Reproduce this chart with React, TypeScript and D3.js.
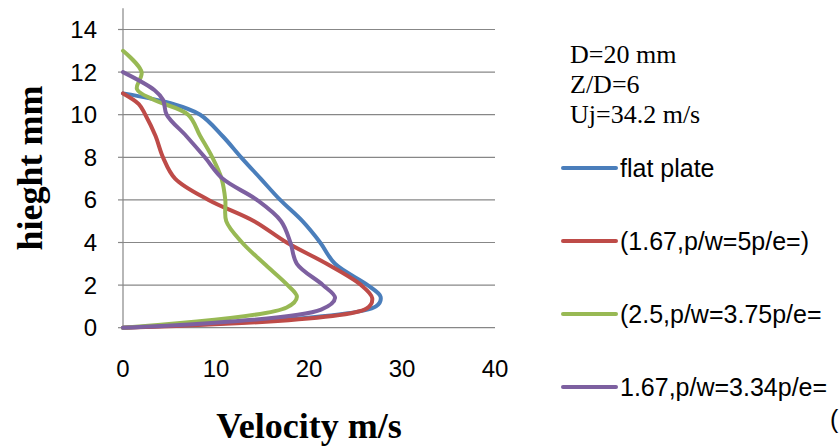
import React, { useEffect } from 'react';
import * as d3 from 'd3';

// values (velocity m/s vs height mm)
const flatHeight = [0, 1.0, 1.45, 2, 3, 4, 5, 6, 7, 8, 9, 10, 10.55, 11];
const flatVel = [0, 27.2, 27.7, 26.3, 22.8, 21.2, 19.3, 16.9, 14.8, 12.7, 10.7, 8.3, 5.0, 0];

const red167Height = [0, 0.9, 1.38, 2, 3, 4, 5, 6, 7, 8, 9, 10, 10.5, 11];
const red167Vel = [0, 26.2, 26.8, 25.6, 21.9, 17.6, 14.1, 9.2, 5.6, 4.3, 3.5, 2.4, 1.7, 0];

const green25Height = [0, 0.95, 1.45, 2, 3, 4, 5, 6, 7, 8, 9, 10, 10.7, 11.2, 12, 13];
const green25Vel = [0, 17.6, 18.7, 17.7, 15.2, 12.8, 11.1, 11.0, 10.6, 9.6, 8.3, 7.0, 3.3, 1.5, 2.0, 0];

const purple167Height = [0, 0.85, 1.4, 2, 3, 4, 5, 6, 7, 8, 9, 10, 10.7, 11.15, 12];
const purple167Vel = [0, 21.3, 22.8, 21.5, 18.7, 18.0, 17.0, 14.4, 10.7, 8.8, 6.8, 4.7, 4.3, 3.4, 0];

const seriesNames = ['flat plate', '(1.67,p/w=5p/e=)', '(2.5,p/w=3.75p/e=', '1.67,p/w=3.34p/e='];
const seriesColors = ['#4a7ebb', '#be4b48', '#98b954', '#7d60a0'];

const xTicks = [0, 10, 20, 30, 40];
const yTicks = [0, 2, 4, 6, 8, 10, 12, 14];
const infoLines = ['D=20 mm', 'Z/D=6', 'Uj=34.2 m/s'];

const zip = (hs: number[], vs: number[]) => hs.map((h, i) => [vs[i], h] as [number, number]);

const series = [
    zip(flatHeight, flatVel),
    zip(red167Height, red167Vel),
    zip(green25Height, green25Vel),
    zip(purple167Height, purple167Vel),
];

const App = () => {
    useEffect(() => {
        document.body.style.margin = '0';
    }, []);

    const width = 840;
    const height = 446;

    const x = d3.scaleLinear().domain([0, 40]).range([123, 495]);
    const y = d3.scaleLinear().domain([0, 15]).range([327.7, 8.2]);

    const line = d3.line<[number, number]>()
        .x(d => x(d[0]))
        .y(d => y(d[1]))
        .curve(d3.curveCatmullRom.alpha(0.5));

    const sans = 'Liberation Sans, Arial, sans-serif';
    const serif = 'Liberation Serif, Times New Roman, serif';

    return (
        <svg width={width} height={height} style={{ display: 'block', background: '#fff' }}>
            {/* gridlines */}
            {yTicks.filter(t => t > 0).map(t => (
                <line key={t} x1={x(0)} x2={x(40)} y1={y(t)} y2={y(t)} stroke="#878787" strokeWidth={1.2} />
            ))}
            {/* axes */}
            <line x1={x(0)} x2={x(0)} y1={y(15)} y2={y(0)} stroke="#878787" strokeWidth={1.2} />
            <line x1={x(0)} x2={x(40)} y1={y(0)} y2={y(0)} stroke="#878787" strokeWidth={1.2} />
            {yTicks.map(t => (
                <line key={t} x1={x(0) - 5} x2={x(0)} y1={y(t)} y2={y(t)} stroke="#878787" strokeWidth={1.2} />
            ))}
            {/* tick labels */}
            {yTicks.map(t => (
                <text key={t} x={97} y={y(t)} dy="0.35em" textAnchor="end" fontFamily={sans} fontSize={24} fill="#000">{t}</text>
            ))}
            {xTicks.map(t => (
                <text key={t} x={x(t)} y={377} textAnchor="middle" fontFamily={sans} fontSize={24} fill="#000">{t}</text>
            ))}
            {/* series */}
            {series.map((s, i) => (
                <path key={i} d={line(s) ?? ''} fill="none" stroke={seriesColors[i]} strokeWidth={4} strokeLinejoin="round" strokeLinecap="round" />
            ))}
            {/* axis titles */}
            <text x={309} y={438} textAnchor="middle" fontFamily={serif} fontWeight="bold" fontSize={36} fill="#000">Velocity m/s</text>
            <text transform="translate(42,168) rotate(-90)" textAnchor="middle" fontFamily={serif} fontWeight="bold" fontSize={36} fill="#000">hieght mm</text>
            {/* info text */}
            {infoLines.map((t, i) => (
                <text key={t} x={570} y={63 + i * 30} fontFamily={serif} fontSize={26} fill="#000">{t}</text>
            ))}
            {/* legend */}
            {seriesNames.map((n, i) => {
                const ly = 168 + i * 73;
                return (
                    <g key={n}>
                        <line x1={563} x2={616} y1={ly} y2={ly} stroke={seriesColors[i]} strokeWidth={4} strokeLinecap="round" />
                        <text x={620} y={ly} dy="0.35em" fontFamily={sans} fontSize={25} fill="#000">{n}</text>
                    </g>
                );
            })}
            <text x={830} y={428} fontFamily={sans} fontSize={25} fill="#000">(</text>
        </svg>
    );
};

export default App;
